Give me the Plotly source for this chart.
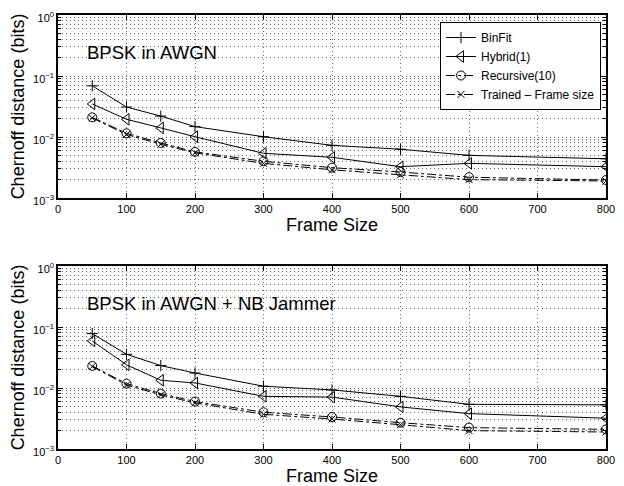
import plotly.graph_objects as go
from plotly.subplots import make_subplots

frame_sizes = [50, 100, 150, 200, 300, 400, 500, 600, 800]

# Top panel: BPSK in AWGN
awgn_binfit = [0.069, 0.031, 0.022, 0.0148, 0.0101, 0.0073, 0.0063, 0.0050, 0.0044]
awgn_hybrid = [0.0348, 0.0195, 0.0141, 0.0101, 0.0054, 0.00465, 0.00326, 0.0037, 0.00326]
awgn_recursive = [0.021, 0.0115, 0.0080, 0.0057, 0.0040, 0.00314, 0.00267, 0.00219, 0.00197]
awgn_trained = [0.0205, 0.0110, 0.0076, 0.0055, 0.0037, 0.0029, 0.0024, 0.0020, 0.0019]

# Bottom panel: BPSK in AWGN + NB Jammer
jam_binfit = [0.078, 0.0357, 0.0233, 0.0176, 0.0107, 0.0093, 0.0073, 0.0054, 0.0053]
jam_hybrid = [0.059, 0.024, 0.0134, 0.0121, 0.0073, 0.0071, 0.0049, 0.0038, 0.0032]
jam_recursive = [0.023, 0.0118, 0.0081, 0.0060, 0.0040, 0.00335, 0.0027, 0.00224, 0.0021]
jam_trained = [0.0225, 0.0112, 0.0077, 0.0057, 0.0037, 0.0031, 0.0025, 0.0020, 0.0019]

series_names = ["BinFit", "Hybrid(1)", "Recursive(10)", "Trained \u2013 Frame size"]
panel_titles = ["BPSK in AWGN", "BPSK in AWGN + NB Jammer"]
x_ticks = [0, 100, 200, 300, 400, 500, 600, 700, 800]
y_ticks = [1e-3, 1e-2, 1e-1, 1]
y_ticktext = ["10<sup>\u22123</sup>", "10<sup>\u22122</sup>", "10<sup>\u22121</sup>", "10<sup>0</sup>"]
y_minor = [m * 10 ** e for e in (-3, -2, -1) for m in range(2, 10)]

styles = [
    dict(dash="solid", symbol="cross-thin-open", size=8),
    dict(dash="solid", symbol="triangle-left-open", size=10),
    dict(dash="dashdot", symbol="circle-open", size=9),
    dict(dash="dashdot", symbol="x-thin-open", size=7),
]

fig = make_subplots(rows=2, cols=1)
panels = [
    [awgn_binfit, awgn_hybrid, awgn_recursive, awgn_trained],
    [jam_binfit, jam_hybrid, jam_recursive, jam_trained],
]
for r, data in enumerate(panels, start=1):
    for name, vals, st in zip(series_names, data, styles):
        fig.add_trace(go.Scatter(
            x=frame_sizes, y=vals, name=name, mode="lines+markers",
            line=dict(color="black", width=1, dash=st["dash"]),
            marker=dict(symbol=st["symbol"], size=st["size"], color="black",
                        line=dict(color="black", width=1)),
            showlegend=(r == 1), legendgroup=name,
        ), row=r, col=1)

W, H = 624, 486
OFF = 8  # page body margin offset of the embedded figure
font_family = "Liberation Sans, Arial, sans-serif"
grid_dash = "1px,3px"
axis_common = dict(showline=True, linecolor="black", linewidth=1.5, mirror="allticks",
                   ticks="inside", ticklen=5, tickcolor="black", automargin=False,
                   showgrid=True, gridcolor="#666", griddash=grid_dash, gridwidth=1,
                   zeroline=False, ticklabeloverflow="allow",
                   tickfont=dict(size=11, color="black", family=font_family))

xdom = [(58 - OFF) / W, (606 - OFF) / W]
ydoms = [[1 - (198 - OFF) / H, 1 - (15 - OFF) / H], [1 - (449 - OFF) / H, 1 - (266 - OFF) / H]]
for i in (1, 2):
    sfx = "" if i == 1 else "2"
    fig.layout["xaxis" + sfx].update(
        domain=xdom, range=[0, 800], tickvals=x_ticks,
        title=dict(text="Frame Size", font=dict(size=18, color="black", family=font_family), standoff=1),
        **axis_common)
    fig.layout["yaxis" + sfx].update(
        domain=ydoms[i - 1], type="log", range=[-3, 0], tickvals=y_ticks, ticktext=y_ticktext,
        ticklabelshift=3,
        title=dict(text="Chernoff distance (bits)", font=dict(size=18, color="black", family=font_family), standoff=4),
        minor=dict(tickvals=y_minor, ticks="inside", ticklen=3, tickcolor="black",
                   showgrid=True, gridcolor="#666", griddash=grid_dash, gridwidth=1),
        **axis_common)

for i, t in enumerate(panel_titles):
    fig.add_annotation(text=t, xref="paper", yref="paper", x=(85 - OFF) / W,
                       y=1 - ((53 if i == 0 else 303) - OFF) / H, xanchor="left", yanchor="middle",
                       showarrow=False, font=dict(size=18.5, color="black", family=font_family))

fig.update_layout(
    width=W, height=H, margin=dict(l=0, r=0, t=0, b=0, autoexpand=False),
    paper_bgcolor="white", plot_bgcolor="white",
    font=dict(family=font_family, color="black"),
    legend=dict(x=(601 - OFF) / W, y=1 - (22 - OFF) / H, xanchor="right", yanchor="top",
                bgcolor="white", bordercolor="black", borderwidth=1,
                font=dict(size=12, color="black", family=font_family),
                tracegroupgap=0, itemwidth=30),
)

fig.write_html("out.html")
